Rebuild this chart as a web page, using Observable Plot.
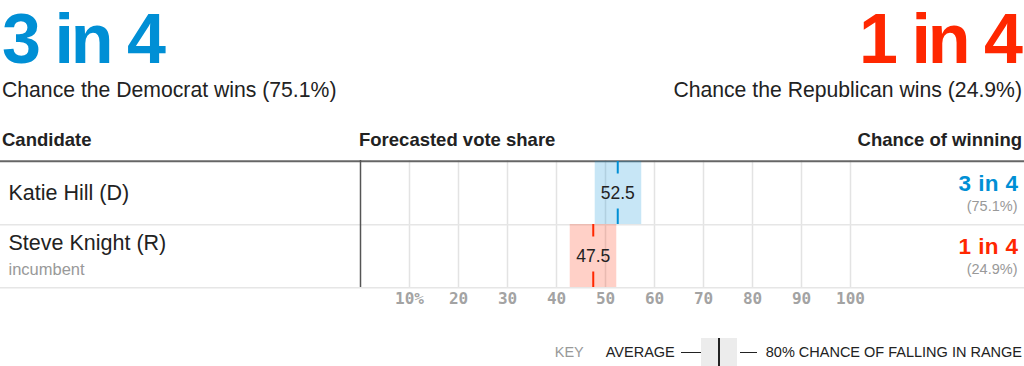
<!DOCTYPE html>
<html>
<head>
<meta charset="utf-8">
<script src="https://cdn.jsdelivr.net/npm/d3@7"></script>
<script src="https://cdn.jsdelivr.net/npm/@observablehq/plot@0.6"></script>
<style>
  html, body { margin: 0; padding: 0; background: #fff; }
  body { width: 1024px; height: 366px; overflow: hidden; font-family: "Liberation Sans", Arial, sans-serif; color: #222; }
  #wrap { position: relative; width: 1024px; height: 366px; }
  .abs { position: absolute; white-space: nowrap; line-height: 1; }
  .big { font-size: 70px; font-weight: bold; letter-spacing: -3px; top: 4px; }
  .sub { font-size: 21.2px; top: 79px; color: #222; }
  .hdr { font-size: 18.5px; font-weight: bold; top: 131px; color: #222; }
  #chart { position: absolute; left: 0; top: 160px; }
  #chart g[font-weight="bold"][font-size="22.5"] text { letter-spacing: 0.4px; }
  #key { position: absolute; right: 2px; top: 338px; height: 28px; display: flex; align-items: center; font-size: 14.5px; line-height: 1; }
  #key .k { color: #999; margin-right: 22px; }
  #key .line { width: 20px; height: 1px; background: #222; }
  #key .box { width: 36px; height: 28px; background: #ececec; position: relative; }
  #key .box::after { content: ""; position: absolute; left: 17px; top: 0; width: 2px; height: 28px; background: #222; }
</style>
</head>
<body>
<div id="wrap"></div>
<script>
// ---- data ----
const candidates = ["Katie Hill (D)", "Steve Knight (R)"];
const notes = ["", "incumbent"];
const averages = [52.5, 47.5];
const lows = [47.9, 42.8];
const highs = [57.4, 52.3];
const odds = ["3 in 4", "1 in 4"];
const chances = [75.1, 24.9];
const partyColors = ["#008fd5", "#ff2700"];
const headlineOdds = ["3 in 4", "1 in 4"];
const headlineTexts = ["Chance the Democrat wins (75.1%)", "Chance the Republican wins (24.9%)"];
const columnHeaders = ["Candidate", "Forecasted vote share", "Chance of winning"];
const ticks = [10, 20, 30, 40, 50, 60, 70, 80, 90, 100];
const keyLabels = ["KEY", "AVERAGE", "80% CHANCE OF FALLING IN RANGE"];

const rows = candidates.map((name, i) => ({
  name, note: notes[i], avg: averages[i], lo: lows[i], hi: highs[i],
  odds: odds[i], chance: chances[i], color: partyColors[i]
}));

const wrap = document.getElementById("wrap");
function addDiv(cls, text, style) {
  const d = document.createElement("div");
  d.className = "abs " + cls;
  d.textContent = text;
  Object.assign(d.style, style);
  wrap.appendChild(d);
  return d;
}
// headline
addDiv("big", headlineOdds[0], {left: "2px", color: partyColors[0]});
addDiv("big", headlineOdds[1], {right: "4px", color: partyColors[1]});
addDiv("sub", headlineTexts[0], {left: "2px"});
addDiv("sub", headlineTexts[1], {right: "2px"});
// column headers
addDiv("hdr", columnHeaders[0], {left: "2px"});
addDiv("hdr", columnHeaders[1], {left: "359px"});
addDiv("hdr", columnHeaders[2], {right: "2px"});

// ---- chart ----
const W = 1024, mL = 360, mR = 174, rowsH = 127, mB = 33;
const rowH = rowsH / candidates.length;
const mono = "'DejaVu Sans Mono', monospace";
const sans = "'Liberation Sans', Arial, sans-serif";

const chart = Plot.plot({
  width: W,
  height: rowsH + mB,
  marginLeft: mL,
  marginRight: mR,
  marginTop: 0,
  marginBottom: mB,
  style: {fontFamily: sans, background: "transparent", overflow: "visible"},
  x: {domain: [0, 100], axis: null},
  y: {domain: candidates, padding: 0, axis: null},
  marks: [
    // gridlines
    Plot.ruleX(ticks, {x: d => d, stroke: "#e3e3e3", strokeWidth: 1.5}),
    // row separators
    Plot.ruleY(rows, {y: "name", dy: rowH / 2, stroke: "#e6e6e6", strokeWidth: 1.5, insetLeft: -mL, insetRight: -mR}),
    Plot.ruleY(rows.slice(0, 1), {y: "name", dy: -rowH / 2, stroke: "#666", strokeWidth: 2, insetLeft: -mL, insetRight: -mR}),
    // 80% ranges
    Plot.barX(rows, {x1: "lo", x2: "hi", y: "name", fill: "color", fillOpacity: 0.22}),
    // zero line
    Plot.ruleX([0], {stroke: "#555", strokeWidth: 1.5}),
    // average markers (split around the label)
    Plot.tickX(rows, {x: "avg", y: "name", stroke: "color", strokeWidth: 2, insetBottom: rowH - 13}),
    Plot.tickX(rows, {x: "avg", y: "name", stroke: "color", strokeWidth: 2, insetTop: rowH - 16}),
    Plot.text(rows, {x: "avg", y: "name", text: d => d3.format(".1f")(d.avg), fontSize: 17.5, fill: "#222"}),
    // candidate names
    Plot.text(rows.filter(d => !d.note), {y: "name", frameAnchor: "left", dx: 8 - mL, textAnchor: "start", text: "name", fontSize: 21.5, fill: "#222"}),
    Plot.text(rows.filter(d => d.note), {y: "name", frameAnchor: "left", dx: 8 - mL, dy: -12.5, textAnchor: "start", text: "name", fontSize: 21.5, fill: "#222"}),
    Plot.text(rows.filter(d => d.note), {y: "name", frameAnchor: "left", dx: 8 - mL, dy: 13.5, textAnchor: "start", text: "note", fontSize: 16.5, fill: "#999"}),
    // chance of winning
    Plot.text(rows, {y: "name", frameAnchor: "right", dx: mR - 6, dy: -9, textAnchor: "end", text: "odds", fontSize: 22.5, fontWeight: "bold", fill: "color"}),
    Plot.text(rows, {y: "name", frameAnchor: "right", dx: mR - 7, dy: 13.5, textAnchor: "end", text: d => `(${d.chance}%)`, fontSize: 14.5, fill: "#999"}),
    // tick labels
    Plot.text(ticks, {x: d => d, frameAnchor: "bottom", dy: 16, text: d => d === 10 ? "10%" : String(d), fontSize: 16, fontFamily: mono, fontWeight: "bold", fill: "#a3a3a3"})
  ]
});
chart.id = "chart";
wrap.appendChild(chart);

// ---- key ----
const key = document.createElement("div");
key.id = "key";
key.innerHTML = `<span class="k">${keyLabels[0]}</span><span>${keyLabels[1]}</span>
<span class="line" style="margin-left:6px"></span><span class="box"></span><span class="line" style="margin-left:3px;width:17px"></span>
<span style="margin-left:9px">${keyLabels[2]}</span>`;
wrap.appendChild(key);
</script>
</body>
</html>
